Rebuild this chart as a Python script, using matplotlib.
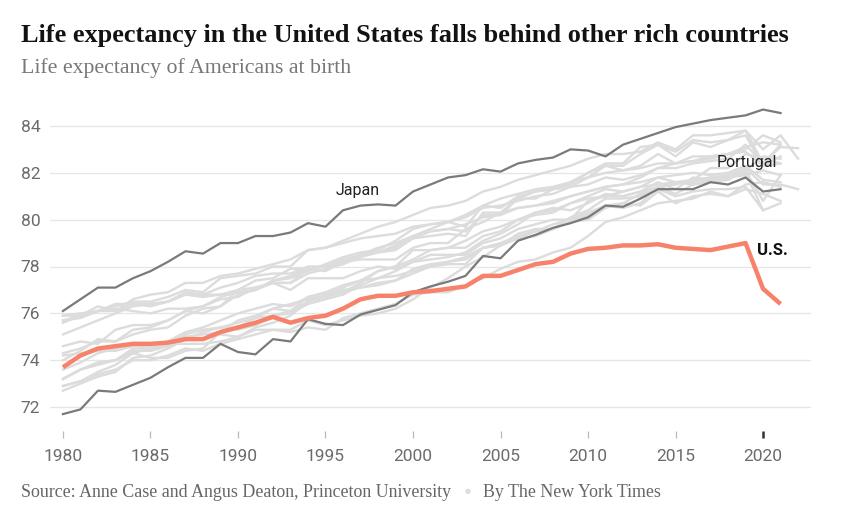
import matplotlib
matplotlib.use("Agg")
import matplotlib.pyplot as plt

# values (1980 onwards, one per year)
us = [73.7, 74.2, 74.5, 74.6, 74.7, 74.7, 74.75, 74.9, 74.9, 75.2,
      75.4, 75.6, 75.85, 75.6, 75.8, 75.9, 76.2, 76.6, 76.75, 76.75,
      76.9, 76.95, 77.05, 77.15, 77.6, 77.6, 77.85, 78.1, 78.2, 78.55,
      78.75, 78.8, 78.9, 78.9, 78.95, 78.8, 78.75, 78.7, 78.85, 79.0,
      77.05, 76.4]
japan = [76.1, 76.6, 77.1, 77.1, 77.5, 77.8, 78.2, 78.65, 78.55, 79.0,
         79.0, 79.3, 79.3, 79.45, 79.85, 79.7, 80.4, 80.6, 80.65, 80.6,
         81.2, 81.5, 81.8, 81.9, 82.15, 82.05, 82.4, 82.55, 82.65, 83.0,
         82.95, 82.7, 83.2, 83.45, 83.7, 83.95, 84.1, 84.25, 84.35, 84.45,
         84.7, 84.55]
portugal = [71.7, 71.9, 72.7, 72.65, 72.95, 73.25, 73.7, 74.1, 74.1, 74.7,
            74.35, 74.25, 74.9, 74.8, 75.75, 75.55, 75.5, 75.95, 76.15, 76.35,
            76.9, 77.15, 77.35, 77.6, 78.45, 78.35, 79.1, 79.35, 79.65, 79.85,
            80.1, 80.6, 80.55, 80.9, 81.3, 81.3, 81.3, 81.6, 81.5, 81.8,
            81.2, 81.3]

# the other rich countries (light gray)
others = {
    "Sweden": [75.7, 75.9, 76.1, 76.3, 76.5, 76.5, 76.7, 77.0, 76.9, 77.5,
               77.6, 77.7, 78.0, 78.0, 78.7, 78.8, 79.0, 79.2, 79.3, 79.4,
               79.7, 79.8, 79.9, 80.1, 80.5, 80.6, 80.8, 81.0, 81.1, 81.4,
               81.5, 81.8, 81.7, 81.9, 82.2, 82.2, 82.4, 82.5, 82.6, 83.2,
               82.4, 83.1, 83.05],
    "Switzerland": [75.7, 75.8, 76.1, 76.1, 76.6, 76.8, 76.9, 77.3, 77.3, 77.6,
                    77.7, 77.9, 78.1, 78.3, 78.7, 78.8, 79.1, 79.4, 79.7, 79.9,
                    80.2, 80.5, 80.6, 80.8, 81.2, 81.4, 81.7, 81.9, 82.1, 82.3,
                    82.6, 82.8, 82.8, 82.9, 83.3, 83.0, 83.6, 83.6, 83.7, 83.8,
                    83.0, 83.6, 82.6],
    "Netherlands": [75.9, 76.0, 76.1, 76.4, 76.4, 76.4, 76.5, 76.9, 76.8, 76.8,
                    77.0, 77.1, 77.3, 77.0, 77.5, 77.5, 77.5, 77.8, 78.0, 77.9,
                    78.2, 78.3, 78.4, 78.6, 79.1, 79.4, 79.8, 80.3, 80.4, 80.7,
                    81.0, 81.3, 81.2, 81.4, 81.8, 81.6, 81.7, 81.8, 81.9, 82.2,
                    81.5, 81.5, 81.3],
    "Norway": [75.9, 75.9, 76.1, 76.2, 76.1, 76.0, 76.2, 76.2, 76.3, 76.6,
               76.7, 77.1, 77.3, 77.3, 77.9, 77.8, 78.2, 78.3, 78.3, 78.3,
               78.8, 79.0, 79.0, 79.6, 79.9, 80.3, 80.5, 80.6, 80.7, 81.0,
               81.2, 81.4, 81.5, 81.8, 82.2, 82.4, 82.5, 82.7, 82.8, 83.1,
               83.3, 83.2],
    "Spain": [75.6, 75.9, 76.3, 76.1, 76.4, 76.3, 76.5, 76.8, 76.7, 76.8,
              76.9, 77.0, 77.4, 77.6, 77.9, 78.0, 78.1, 78.5, 78.6, 78.7,
              79.2, 79.5, 79.6, 79.5, 80.2, 80.2, 80.9, 80.9, 81.3, 81.6,
              82.0, 82.4, 82.4, 83.1, 83.2, 82.9, 83.4, 83.3, 83.4, 83.8,
              82.4, 83.2],
    "Italy": [74.0, 74.4, 74.9, 74.8, 75.3, 75.4, 75.7, 76.1, 76.3, 76.7,
              76.9, 77.0, 77.4, 77.5, 77.8, 78.1, 78.4, 78.6, 78.7, 79.1,
              79.6, 79.8, 79.9, 79.7, 80.6, 80.5, 81.0, 81.2, 81.3, 81.5,
              82.0, 82.3, 82.3, 82.8, 83.2, 82.7, 83.3, 83.1, 83.4, 83.6,
              82.3, 82.7],
    "France": [74.3, 74.5, 74.8, 74.8, 75.1, 75.3, 75.4, 75.9, 76.2, 76.3,
               76.8, 77.0, 77.3, 77.3, 77.7, 77.9, 78.1, 78.4, 78.6, 78.8,
               79.2, 79.3, 79.4, 79.3, 80.3, 80.3, 80.9, 81.2, 81.3, 81.4,
               81.8, 82.3, 82.1, 82.3, 82.8, 82.4, 82.7, 82.7, 82.8, 82.9,
               82.3, 82.4],
    "Canada": [75.1, 75.4, 75.7, 76.0, 76.3, 76.4, 76.5, 76.8, 76.8, 77.1,
               77.3, 77.6, 77.7, 77.7, 78.0, 78.0, 78.3, 78.5, 78.6, 78.9,
               79.3, 79.5, 79.6, 79.8, 80.1, 80.2, 80.5, 80.6, 80.8, 81.0,
               81.2, 81.4, 81.5, 81.6, 81.8, 81.9, 82.0, 81.9, 82.0, 82.3,
               81.7, 81.6],
    "Australia": [74.6, 74.8, 74.7, 75.3, 75.5, 75.5, 75.7, 76.1, 76.0, 76.3,
                  77.0, 77.4, 77.5, 77.9, 77.9, 78.0, 78.2, 78.5, 78.8, 79.0,
                  79.3, 79.6, 79.9, 80.2, 80.6, 80.9, 81.1, 81.3, 81.4, 81.6,
                  81.8, 82.0, 82.1, 82.2, 82.4, 82.4, 82.5, 82.6, 82.8, 83.0,
                  83.6, 83.3],
    "United Kingdom": [73.2, 73.6, 73.8, 74.0, 74.4, 74.4, 74.6, 75.0, 75.1, 75.2,
                       75.7, 75.9, 76.2, 76.1, 76.7, 76.7, 76.9, 77.1, 77.2, 77.4,
                       77.9, 78.1, 78.2, 78.3, 78.8, 79.0, 79.3, 79.5, 79.6, 80.1,
                       80.4, 80.9, 80.9, 81.0, 81.3, 81.0, 81.2, 81.3, 81.3, 81.4,
                       80.4, 80.7],
    "Germany": [72.9, 73.1, 73.5, 73.8, 74.3, 74.5, 74.7, 75.1, 75.3, 75.4,
                75.3, 75.5, 75.9, 76.0, 76.4, 76.6, 76.8, 77.2, 77.5, 77.8,
                78.2, 78.5, 78.5, 78.5, 79.0, 79.2, 79.6, 79.8, 80.0, 80.0,
                80.3, 80.6, 80.7, 80.6, 81.2, 80.7, 81.0, 81.1, 81.0, 81.3,
                81.1, 80.8],
    "Austria": [72.7, 73.0, 73.3, 73.5, 74.1, 74.2, 74.5, 74.9, 75.2, 75.4,
                75.6, 75.8, 75.9, 76.1, 76.5, 76.8, 77.1, 77.4, 77.8, 78.0,
                78.3, 78.7, 78.8, 78.8, 79.3, 79.5, 80.0, 80.3, 80.5, 80.4,
                80.7, 81.1, 81.0, 81.2, 81.6, 81.3, 81.8, 81.7, 81.8, 82.0,
                80.4],
    "Belgium": [73.2, 73.6, 73.9, 74.0, 74.5, 74.5, 74.8, 75.2, 75.4, 75.7,
                76.0, 76.2, 76.4, 76.3, 76.7, 76.9, 77.2, 77.4, 77.5, 77.6,
                77.8, 78.0, 78.1, 78.1, 78.8, 78.9, 79.4, 79.6, 79.6, 79.9,
                80.2, 80.6, 80.5, 80.7, 81.4, 81.1, 81.5, 81.6, 81.7, 82.1,
                80.8, 81.9],
    "Denmark": [74.2, 74.3, 74.4, 74.4, 74.6, 74.6, 74.8, 75.0, 74.9, 75.1,
                75.0, 75.3, 75.3, 75.2, 75.4, 75.3, 75.8, 76.0, 76.2, 76.4,
                76.8, 76.9, 76.9, 77.2, 77.5, 77.9, 78.2, 78.3, 78.6, 78.8,
                79.3, 79.9, 80.1, 80.4, 80.7, 80.8, 80.9, 81.2, 81.0, 81.5,
                81.6, 81.4],
    "Finland": [73.6, 73.9, 74.3, 74.5, 74.7, 74.4, 74.7, 74.7, 74.7, 74.8,
                75.0, 75.4, 75.6, 75.9, 76.5, 76.7, 77.0, 77.1, 77.3, 77.4,
                77.7, 78.0, 78.2, 78.4, 78.8, 78.9, 79.2, 79.3, 79.6, 79.9,
                80.0, 80.5, 80.7, 81.1, 81.3, 81.6, 81.5, 81.7, 81.8, 81.9,
                82.1, 81.9],
    "Ireland": [72.9, 73.1, 73.4, 73.6, 74.0, 74.0, 74.2, 74.5, 74.4, 74.7,
                74.9, 75.1, 75.3, 75.3, 75.7, 75.5, 75.7, 75.9, 76.0, 76.2,
                76.6, 77.1, 77.5, 78.0, 78.4, 78.9, 79.2, 79.5, 79.8, 80.0,
                80.8, 81.0, 81.0, 81.2, 81.4, 81.5, 81.7, 82.2, 82.2, 82.8,
                82.6, 82.4],
    "New Zealand": [73.2, 73.6, 73.9, 74.0, 74.3, 74.1, 74.1, 74.4, 74.5, 75.2,
                    75.4, 75.8, 76.2, 76.4, 76.6, 76.8, 76.9, 77.3, 77.8, 78.0,
                    78.7, 78.7, 78.8, 79.1, 79.5, 79.7, 80.0, 80.2, 80.3, 80.7,
                    80.9, 81.0, 81.2, 81.4, 81.5, 81.6, 81.6, 81.8, 81.8, 82.1,
                    82.7, 82.6],
}

y_ticks = [72, 74, 76, 78, 80, 82, 84]
x_ticks = [1980, 1985, 1990, 1995, 2000, 2005, 2010, 2015, 2020]

title = "Life expectancy in the United States falls behind other rich countries"
subtitle = "Life expectancy of Americans at birth"
source = "Source: Anne Case and Angus Deaton, Princeton University"
byline = "By The New York Times"


def years_for(vals):
    return list(range(1980, 1980 + len(vals)))


plt.rcParams["font.family"] = ["Roboto", "DejaVu Sans"]

fig = plt.figure(figsize=(8.48, 5.27), dpi=100)
ax = fig.add_axes([50 / 848, 1 - 430.5 / 527, 761 / 848, 328 / 527])

for name, vals in others.items():
    ax.plot(years_for(vals), vals, color="#dcdcdc", lw=1.7, zorder=2,
            solid_joinstyle="round")

ax.plot(years_for(japan), japan, color="#7a7a7a", lw=1.6, zorder=3)
ax.plot(years_for(portugal), portugal, color="#7a7a7a", lw=1.6, zorder=3)
ax.plot(years_for(us), us, color="#f7826b", lw=3.2, zorder=4,
        solid_capstyle="butt", solid_joinstyle="round")

ax.set_xlim(1979.26, 2022.74)
ax.set_ylim(71, 85)
ax.set_yticks(y_ticks)
ax.set_xticks(x_ticks)
ax.grid(axis="y", color="#e6e6e6", lw=1)
ax.set_axisbelow(True)
for s in ax.spines.values():
    s.set_visible(False)

ax.tick_params(axis="y", length=0, pad=7, labelsize=12.5, labelcolor="#6b6b6b")
ax.tick_params(axis="x", length=5, width=0.9, color="#bbbbbb", pad=8,
               labelsize=12.5, labelcolor="#6b6b6b")
last = ax.xaxis.get_major_ticks()[-1]
last.tick1line.set_markeredgecolor("#333333")
last.tick1line.set_markeredgewidth(1.8)

# line labels
ax.text(1996.85, 81.25, "Japan", fontsize=11.5, color="#222222",
        ha="center", va="center")
ax.text(2019.1, 82.45, "Portugal", fontsize=11.5, color="#222222",
        ha="center", va="center")
ax.text(2019.65, 78.7, "U.S.", fontsize=12, fontweight="bold",
        color="#111111", ha="left", va="center")

# header
t = fig.text(21 / 848, 1 - 42 / 527, title, family="Liberation Serif",
             fontweight="bold", fontsize=20, color="#121212", ha="left",
             va="baseline")
fig.canvas.draw()
w = t.get_window_extent().width
t.set_fontsize(20 * 766 / w)

st = fig.text(21 / 848, 1 - 73 / 527, subtitle, family="Liberation Serif",
              fontsize=15, color="#777777", ha="left", va="baseline")
fig.canvas.draw()
w = st.get_window_extent().width
st.set_fontsize(15 * 331 / w)

src = fig.text(21 / 848, 1 - 497 / 527, source, family="Liberation Serif",
               fontsize=11, color="#666666", ha="left", va="baseline")
fig.canvas.draw()
w = src.get_window_extent().width
src.set_fontsize(11 * 432 / w)
fig.text(468 / 848, 1 - 492 / 527, "\u25cf", fontsize=5, color="#dddddd",
         ha="center", va="center")
fig.text(483 / 848, 1 - 497 / 527, byline, family="Liberation Serif",
         fontsize=src.get_fontsize(), color="#666666", ha="left", va="baseline")

fig.savefig("out.png", dpi=100, facecolor="white")
